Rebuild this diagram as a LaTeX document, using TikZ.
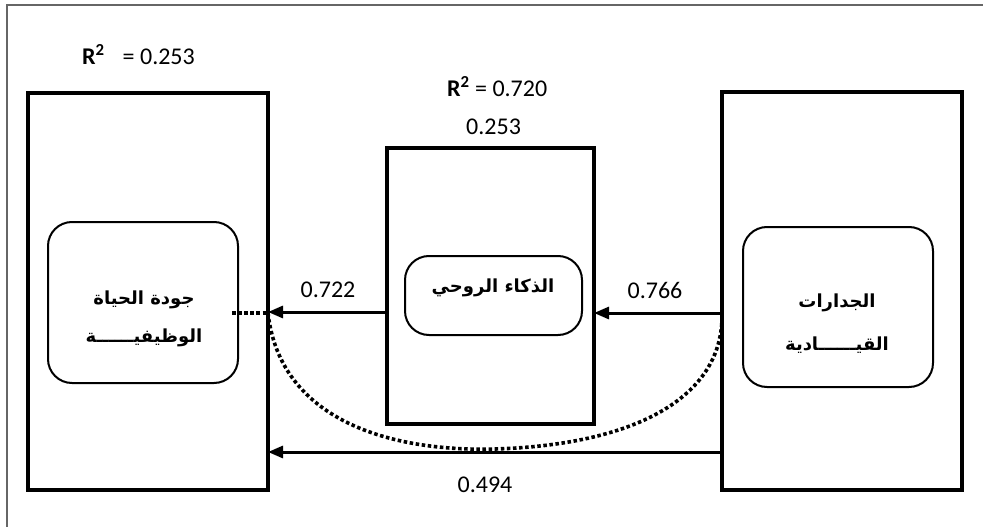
\documentclass[tikz,border=0pt]{standalone}
\usepackage{fontspec}
\setmainfont{Carlito}
\newfontfamily\arabicfont[Script=Arabic]{DejaVu Sans}
\TeXXeTstate=1
\usetikzlibrary{arrows.meta,calc}
\tikzset{
  bigbox/.style={draw, line width=3.6pt, inner sep=0pt, outer sep=0pt},
  roundbox/.style={draw, line width=2pt, rounded corners=24pt, inner sep=0pt, outer sep=0pt},
  arr/.style={line width=3pt, -{Triangle[length=15pt,width=12pt]}},
  dotline/.style={line width=3.6pt, dash pattern=on 3.5pt off 2.6pt},
  ar/.style={font=\arabicfont\bfseries\fontsize{18}{21}\selectfont, inner sep=0pt},
  num/.style={font=\fontsize{24}{28}\selectfont, inner sep=0pt},
}
\begin{document}
\begin{tikzpicture}[x=1pt,y=-1pt]
\useasboundingbox (0,0) rectangle (983,527);
\draw[gray!80!black, line width=1.4pt] (7,527) -- (7,5) -- (983,5);
% big boxes
\node[bigbox, minimum width=240pt, minimum height=397pt] (L) at (148,291.5) {};
\node[bigbox, minimum width=207pt, minimum height=276pt] (M) at (490.5,286) {};
\node[bigbox, minimum width=240pt, minimum height=398pt] (R) at (842,291) {};
% rounded boxes
\node[roundbox, minimum width=190pt, minimum height=161pt] (Lr) at (143,302.5) {};
\node[roundbox, minimum width=177pt, minimum height=79pt] (Mr) at (493.5,295.5) {};
\node[roundbox, minimum width=190pt, minimum height=160pt] (Rr) at (838,307) {};
% arabic texts
\node[ar] (Lt1) at (144,300) {\beginR جودة الحياة\endR};
\node[ar] (Lt2) at (144,338) {\beginR الوظيفيــــــة\endR};
\node[ar] (Mt) at (493,288) {\beginR الذكاء الروحي\endR};
\node[ar] (Rt1) at (837,303) {\beginR الجدارات\endR};
\node[ar] (Rt2) at (837,345) {\beginR القيــــــادية\endR};
% connection points
\coordinate (rA) at (722,313);
\coordinate (mA) at (387,312);
\coordinate (rB) at (722,452);
\coordinate (lD) at (232,313);
\coordinate (curveL) at (268,313);
% arrows
\draw[arr] (rA) -- (rA -| M.east);
\draw[arr] (mA) -- (mA -| L.east);
\draw[arr] (rB) -- (rB -| L.east);
\draw[dotline] (lD) -- (curveL);
\draw[dotline] (curveL) .. controls (280,420) and (390,452) .. (495,449)
  .. controls (630,445) and (724,400) .. (rA);
% labels
\node[num] (n722) at (328,290) {0.722};
\node[num] (n766) at (655,290) {0.766};
\node[num] (n494) at (485,485) {0.494};
\node[num, anchor=west] (r1) at (82,55) {\textbf{R\textsuperscript{2}}\hspace{18pt}= 0.253};
\node[num, anchor=west] (r2) at (447,87) {\textbf{R\textsuperscript{2}} = 0.720};
\node[num, anchor=west] (r3) at (466,127) {0.253};
\end{tikzpicture}
\end{document}
